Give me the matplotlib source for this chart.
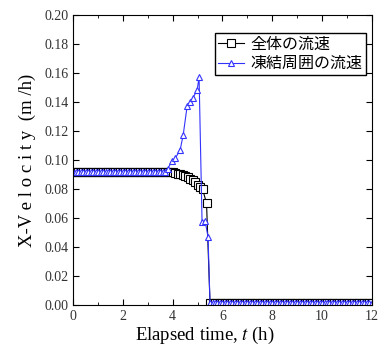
import numpy as np
import matplotlib.pyplot as plt
from matplotlib.ticker import MultipleLocator

plt.rcParams['font.family'] = ['Liberation Serif', 'DejaVu Serif']
plt.rcParams['mathtext.fontset'] = 'stix'

# flat part before freezing (sampled every 0.1 h)
t_flat = np.arange(0.0, 3.75, 0.1)
v_flat = 0.092

# total flow velocity (black squares)
t_all = [3.8, 3.9, 4.0, 4.1, 4.2, 4.3, 4.4, 4.5, 4.6, 4.7, 4.8, 4.9, 5.0, 5.1, 5.2, 5.36, 5.5]
v_all = [0.092, 0.0918, 0.0915, 0.091, 0.0905, 0.090, 0.0895, 0.089, 0.088, 0.087,
         0.086, 0.085, 0.083, 0.081, 0.080, 0.070, 0.001]

# flow velocity around freezing (blue triangles)
t_frz = [3.8, 3.96, 4.1, 4.3, 4.42, 4.58, 4.7, 4.82, 4.98, 5.06, 5.18, 5.3, 5.42, 5.5]
v_frz = [0.094, 0.099, 0.101, 0.107, 0.117, 0.137, 0.140, 0.143, 0.148, 0.157,
         0.057, 0.058, 0.047, 0.001]

# after freezing
t_end = np.arange(5.6, 12.01, 0.1)
v_end = 0.001

x1 = np.concatenate([t_flat, t_all, t_end])
y1 = np.concatenate([np.full(len(t_flat), v_flat), v_all, np.full(len(t_end), v_end)])
x2 = np.concatenate([t_flat, t_frz, t_end])
y2 = np.concatenate([np.full(len(t_flat), v_flat), v_frz, np.full(len(t_end), v_end)])

fig = plt.figure(figsize=(3.79, 3.55), dpi=100)
ax = fig.add_axes([0.193, 0.141, 0.788, 0.817])

ax.plot(x1, y1, color='black', lw=0.8, marker='s', ms=5.5, mfc='white',
        mec='black', mew=0.8, label='全体の流速')
ax.plot(x2, y2, color='#3333ff', lw=0.8, marker='^', ms=4, mfc='white',
        mec='#3333ff', mew=0.8, label='凍結周囲の流速')

ax.set_xlim(0, 12)
ax.set_ylim(0, 0.20)
ax.xaxis.set_major_locator(MultipleLocator(2))
ax.xaxis.set_minor_locator(MultipleLocator(1))
ax.yaxis.set_major_locator(MultipleLocator(0.02))
ax.yaxis.set_major_formatter(plt.FormatStrFormatter('%.2f'))
ax.tick_params(which='both', direction='in', top=True, right=True, labelsize=10,
               labelcolor='#333333')
ax.tick_params(which='major', length=4)
ax.tick_params(which='minor', length=2.5)

ax.set_xlabel('Elapsed time, $\\mathit{t}$ (h)', fontsize=13.5, labelpad=4)
ax.xaxis.set_label_coords(0.44, -0.07, transform=ax.transAxes)
ax.xaxis.label.set_va('top')
ax.set_ylabel('X-V e l o c i t y  (m /h)', fontsize=13.5, labelpad=6)

leg = ax.legend(loc='upper right', bbox_to_anchor=(0.99, 0.95),
                prop={'family': ['Noto Sans CJK JP'], 'size': 11.5},
                fancybox=False, edgecolor='black', framealpha=1,
                handlelength=1.6, handletextpad=0.4, borderpad=0.2,
                labelspacing=0.15, borderaxespad=0.2)
leg.get_frame().set_linewidth(1.0)

fig.savefig('out.png', dpi=100)
